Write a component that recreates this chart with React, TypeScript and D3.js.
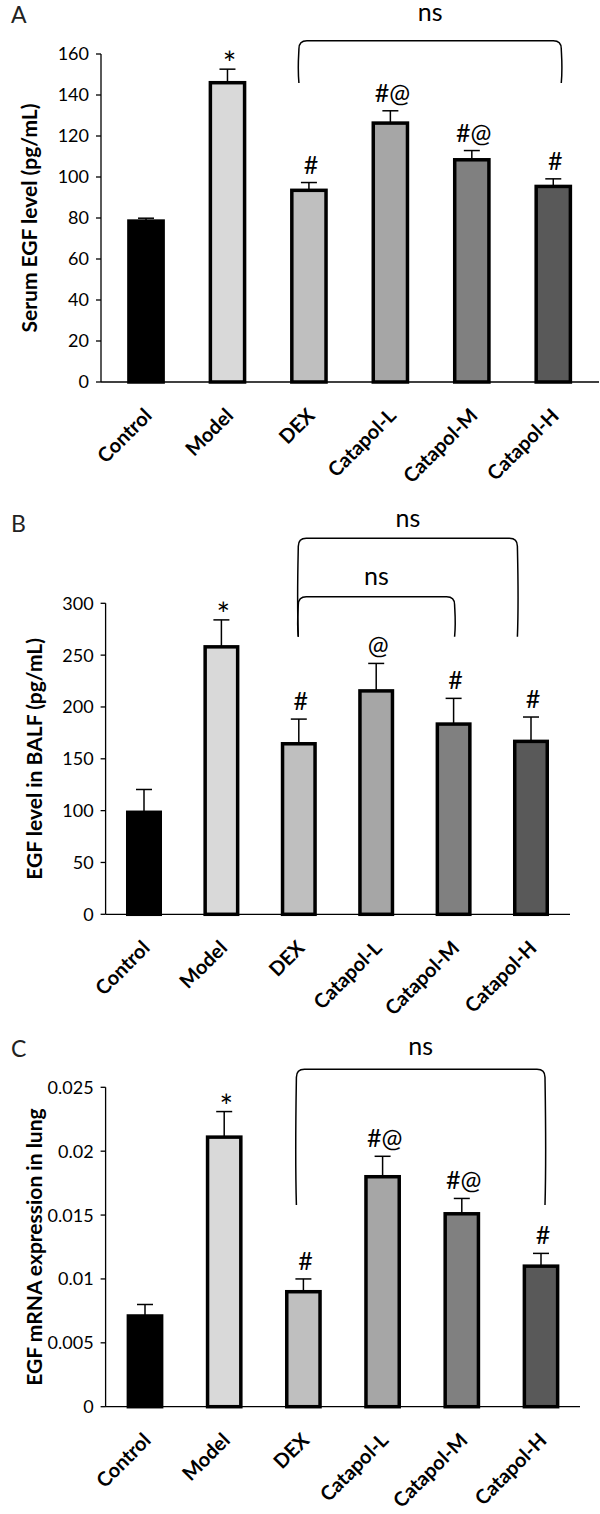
import React from "react";
import * as d3 from "d3";

// ---------- data ----------
const categories = ["Control", "Model", "DEX", "Catapol-L", "Catapol-M", "Catapol-H"];

const serumMean = [78.5, 146, 93.5, 126.3, 108.4, 95.4];
const serumErr = [1.4, 6.6, 3.8, 6.0, 4.5, 3.7];
const serumSig = ["", "*", "#", "#@", "#@", "#"];
const serumTicks = [0, 20, 40, 60, 80, 100, 120, 140, 160];

const balfMean = [98.4, 258, 164.5, 215.5, 183.5, 166.8];
const balfErr = [22, 26, 23.8, 26.5, 24.8, 23.5];
const balfSig = ["", "*", "#", "@", "#", "#"];
const balfTicks = [0, 50, 100, 150, 200, 250, 300];

const mrnaMean = [0.0071, 0.0211, 0.009, 0.018, 0.0151, 0.011];
const mrnaErr = [0.0009, 0.002, 0.001, 0.0016, 0.0012, 0.001];
const mrnaSig = ["", "*", "#", "#@", "#@", "#"];
const mrnaTicks = [0, 0.005, 0.01, 0.015, 0.02, 0.025];
const mrnaTickLabels = ["0", "0.005", "0.01", "0.015", "0.02", "0.025"];

const barFills = ["#000000", "#d9d9d9", "#bfbfbf", "#a6a6a6", "#808080", "#595959"];

// ---------- layout ----------
type Bracket = { from: number; to: number; dxFrom: number; dxTo: number; top: number; bottom: number; label: string; labelY: number };
type PanelCfg = {
  letter: string;
  letterY: number;
  title: string;
  means: number[];
  errs: number[];
  sigs: string[];
  ticks: number[];
  tickLabels: string[];
  axisX: number;
  axisEnd: number;
  band: [number, number];
  yTop: number;
  yBottom: number;
  brackets: Bracket[];
};

const panels: PanelCfg[] = [
  {
    letter: "A",
    letterY: 23,
    title: "Serum EGF level (pg/mL)",
    means: serumMean,
    errs: serumErr,
    sigs: serumSig,
    ticks: serumTicks,
    tickLabels: serumTicks.map(String),
    axisX: 101,
    axisEnd: 599,
    band: [105.3, 594],
    yTop: 54,
    yBottom: 382,
    brackets: [{ from: 2, to: 5, dxFrom: -10, dxTo: 8, top: 40.7, bottom: 83, label: "ns", labelY: 21 }],
  },
  {
    letter: "B",
    letterY: 532,
    title: "EGF level in BALF (pg/mL)",
    means: balfMean,
    errs: balfErr,
    sigs: balfSig,
    ticks: balfTicks,
    tickLabels: balfTicks.map(String),
    axisX: 105.6,
    axisEnd: 570,
    band: [105.3, 569.7],
    yTop: 603.3,
    yBottom: 914.3,
    brackets: [
      { from: 2, to: 5, dxFrom: -0.5, dxTo: -13.6, top: 538.3, bottom: 636.7, label: "ns", labelY: 527 },
      { from: 2, to: 4, dxFrom: -0.5, dxTo: 1, top: 596.7, bottom: 636.7, label: "ns", labelY: 585 },
    ],
  },
  {
    letter: "C",
    letterY: 1057,
    title: "EGF mRNA expression in lung",
    means: mrnaMean,
    errs: mrnaErr,
    sigs: mrnaSig,
    ticks: mrnaTicks,
    tickLabels: mrnaTickLabels,
    axisX: 105.6,
    axisEnd: 580,
    band: [105.4, 580.6],
    yTop: 1087.3,
    yBottom: 1406.7,
    brackets: [{ from: 2, to: 5, dxFrom: -7, dxTo: 4, top: 1069.3, bottom: 1205, label: "ns", labelY: 1055 }],
  },
];

const FONT = "Lato, 'Open Sans', 'DejaVu Sans', sans-serif";

function bracketPath(x1: number, x2: number, top: number, bottom: number) {
  const r = 8;
  const p = d3.path();
  p.moveTo(x1, bottom);
  p.bezierCurveTo(x1 - 1.5, bottom - (bottom - top) * 0.4, x1, top + r + 4, x1, top + r);
  p.quadraticCurveTo(x1, top, x1 + r, top);
  p.lineTo(x2 - r, top);
  p.quadraticCurveTo(x2, top, x2, top + r);
  p.bezierCurveTo(x2, top + r + 4, x2 + 1.5, bottom - (bottom - top) * 0.4, x2, bottom);
  return p.toString();
}

function Panel({ cfg }: { cfg: PanelCfg }) {
  const maxTick = cfg.ticks[cfg.ticks.length - 1];
  const y = d3.scaleLinear().domain([0, maxTick]).range([cfg.yBottom, cfg.yTop]);
  const x = d3.scaleBand<string>().domain(categories).range(cfg.band).paddingInner(0.58).paddingOuter(0.29);
  const bw = x.bandwidth();
  const cx = (i: number) => (x(categories[i]) as number) + bw / 2;
  const capW = 16;

  return (
    <g>
      <text x={11} y={cfg.letterY} fontSize={23} fontFamily={FONT} fill="#222">
        {cfg.letter}
      </text>

      {/* y axis */}
      <line x1={cfg.axisX} x2={cfg.axisX} y1={y(0)} y2={y(maxTick)} stroke="#000" strokeWidth={1.3} />
      {cfg.ticks.map((t, i) => (
        <g key={i}>
          <line x1={cfg.axisX - 5} x2={cfg.axisX} y1={y(t)} y2={y(t)} stroke="#000" strokeWidth={1.3} />
          <text x={cfg.axisX - 12} y={y(t)} dy="0.36em" textAnchor="end" fontSize={18} fontFamily={FONT} fill="#000">
            {cfg.tickLabels[i]}
          </text>
        </g>
      ))}
      <text
        transform={`translate(${cfg.axisX - 64},${(y(0) + y(maxTick)) / 2}) rotate(-90)`}
        textAnchor="middle"
        fontSize={21}
        fontWeight="bold"
        fontFamily={FONT}
        fill="#000"
      >
        {cfg.title}
      </text>

      {/* error bars */}
      {cfg.means.map((m, i) => {
        const top = y(m + cfg.errs[i]);
        return (
          <g key={"e" + i}>
            <line x1={cx(i)} x2={cx(i)} y1={y(m)} y2={top} stroke="#000" strokeWidth={1.5} />
            <line x1={cx(i) - capW / 2} x2={cx(i) + capW / 2} y1={top} y2={top} stroke="#000" strokeWidth={1.5} />
          </g>
        );
      })}

      {/* bars */}
      {cfg.means.map((m, i) => (
        <rect
          key={"b" + i}
          x={x(categories[i])}
          y={y(m)}
          width={bw}
          height={y(0) - y(m)}
          fill={barFills[i]}
          stroke="#000"
          strokeWidth={3.5}
        />
      ))}

      {/* x axis */}
      <line x1={cfg.axisX} x2={cfg.axisEnd} y1={y(0)} y2={y(0)} stroke="#000" strokeWidth={1.3} />

      {/* category labels */}
      {categories.map((c, i) => (
        <text
          key={"l" + i}
          transform={`translate(${cx(i) + 7},${y(0) + 35}) rotate(-45)`}
          textAnchor="end"
          fontSize={20}
          fontWeight="bold"
          fontFamily={FONT}
          fill="#000"
        >
          {c}
        </text>
      ))}

      {/* significance marks */}
      {cfg.sigs.map((s, i) =>
        s ? (
          <text
            key={"s" + i}
            x={cx(i) + 2}
            y={y(cfg.means[i] + cfg.errs[i]) + (s === "*" ? 6 : -9)}
            textAnchor="middle"
            fontSize={s === "*" ? 32 : 25}
            fontFamily={FONT}
            fill="#000"
          >
            {s}
          </text>
        ) : null
      )}

      {/* brackets */}
      {cfg.brackets.map((b, k) => {
        const x1 = cx(b.from) + b.dxFrom;
        const x2 = cx(b.to) + b.dxTo;
        return (
          <g key={"k" + k}>
            <path d={bracketPath(x1, x2, b.top, b.bottom)} fill="none" stroke="#000" strokeWidth={1.5} />
            <text x={(x1 + x2) / 2} y={b.labelY} textAnchor="middle" fontSize={25} fontFamily={FONT} fill="#000">
              {b.label}
            </text>
          </g>
        );
      })}
    </g>
  );
}

export default function App() {
  return (
    <svg
      width={600}
      height={1514}
      viewBox="0 0 600 1514"
      style={{ position: "absolute", left: 0, top: 0, background: "#fff", display: "block" }}
    >
      <rect x={0} y={0} width={600} height={1514} fill="#fff" />
      {panels.map((p) => (
        <Panel key={p.letter} cfg={p} />
      ))}
    </svg>
  );
}
